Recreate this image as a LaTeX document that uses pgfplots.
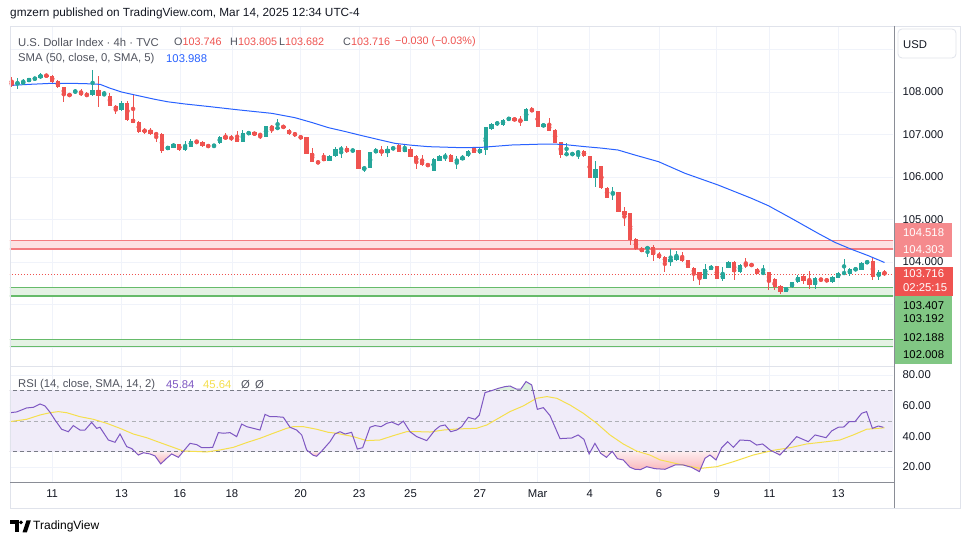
\documentclass[border=0pt]{standalone}
\usepackage{fontspec}
\setmainfont{Liberation Sans}
\usepackage{pgfplots}
\pgfplotsset{compat=1.18}
\usepackage{pgfplotstable}

\definecolor{upc}{HTML}{26A69A}
\definecolor{dnc}{HTML}{EF5350}
\definecolor{smac}{HTML}{2962FF}
\definecolor{gridc}{HTML}{F0F3FA}
\definecolor{txt}{HTML}{131722}
\definecolor{lgc}{HTML}{50535E}
\definecolor{rsic}{HTML}{7E57C2}
\definecolor{rsimac}{HTML}{F5DF4D}
\definecolor{bandc}{HTML}{F0ECF9}
\definecolor{zoneR}{HTML}{FDE2E3}
\definecolor{zoneRl}{HTML}{F47C80}
\definecolor{zoneG}{HTML}{E4F2E4}
\definecolor{zoneGl}{HTML}{66BB6A}
\definecolor{pinktop}{HTML}{FDEDEE}
\definecolor{pinkbot}{HTML}{F9B3B7}
\definecolor{greenf}{HTML}{DDF1DE}
\definecolor{bordc}{HTML}{E0E3EB}
\definecolor{axc}{HTML}{8A8D96}
\definecolor{dashc}{HTML}{787B86}
\definecolor{boxR}{HTML}{F58A8D}
\definecolor{boxG}{HTML}{81C784}

\pgfplotstableread{
i o h l c
2 108.204 108.322 108.078 108.220
3 108.188 108.314 108.173 108.251
4 108.243 108.330 108.235 108.322
5 108.306 108.330 108.300 108.322
6 108.322 108.439 108.314 108.408
12 108.008 108.063 107.953 108.024
15 107.922 108.518 107.914 108.047
17 107.937 108.031 107.906 107.953
20 107.576 107.796 107.561 107.749
28 106.635 106.740 106.630 106.729
29 106.690 106.808 106.675 106.784
31 106.627 106.839 106.620 106.737
32 106.714 106.886 106.698 106.855
36 106.722 106.776 106.706 106.737
37 106.792 106.960 106.780 106.949
41 106.831 107.106 106.824 107.043
42 106.996 107.090 106.980 107.067
45 106.949 107.210 106.940 107.200
47 107.145 107.357 107.129 107.161
56 106.384 106.510 106.380 106.502
57 106.494 106.714 106.478 106.659
58 106.627 106.729 106.439 106.690
60 106.604 106.650 106.600 106.643
62 106.173 106.259 106.125 106.243
63 106.220 106.590 106.210 106.588
64 106.573 106.675 106.557 106.635
66 106.573 106.737 106.471 106.667
67 106.651 106.714 106.635 106.698
69 106.596 106.784 106.580 106.675
74 106.149 106.440 106.140 106.431
75 106.384 106.525 106.376 106.502
76 106.478 106.557 106.376 106.494
78 106.376 106.494 106.180 106.400
79 106.400 106.518 106.392 106.478
80 106.494 106.627 106.478 106.612
82 106.565 106.682 106.549 106.651
83 106.643 107.184 106.518 107.169
84 107.129 107.263 107.106 107.247
85 107.224 107.325 107.200 107.302
86 107.224 107.373 107.200 107.349
87 107.333 107.420 107.318 107.404
90 107.325 107.631 107.310 107.608
93 107.184 107.263 107.169 107.247
97 106.525 106.808 106.518 106.549
98 106.533 106.560 106.520 106.549
99 106.549 106.627 106.416 106.620
102 105.984 106.376 105.773 106.188
105 105.608 105.757 105.459 105.639
111 104.314 104.361 104.118 104.345
115 104.008 104.314 103.898 104.071
116 104.055 104.259 104.024 104.149
121 103.608 103.961 103.600 103.835
122 103.820 103.929 103.804 103.906
124 103.600 103.882 103.561 103.710
125 103.867 104.024 103.851 104.008
127 103.757 103.961 103.741 103.937
131 103.710 103.929 103.694 103.773
135 103.302 103.420 103.286 103.404
136 103.404 103.537 103.380 103.522
137 103.522 103.694 103.506 103.639
140 103.459 103.647 103.365 103.631
143 103.522 103.671 103.506 103.655
144 103.631 103.757 103.616 103.733
145 103.733 104.071 103.725 103.749
146 103.725 103.867 103.663 103.843
147 103.820 103.851 103.812 103.835
148 103.820 104.008 103.812 103.984
149 103.961 104.047 103.945 104.031
151 103.663 103.812 103.584 103.757
}\upbars

\pgfplotstableread{
i o h l c
1 108.251 108.361 108.125 108.141
7 108.400 108.410 108.360 108.369
8 108.384 108.400 108.220 108.243
9 108.267 108.282 108.086 108.110
10 108.110 108.125 107.773 107.937
11 107.961 107.970 107.890 107.898
13 108.016 108.078 107.906 107.922
14 107.937 107.992 107.875 107.922
16 108.047 108.376 107.639 107.914
18 107.914 107.969 107.671 107.678
19 107.671 107.686 107.490 107.592
21 107.749 107.796 107.325 107.341
22 107.365 107.945 107.263 107.278
23 107.302 107.310 107.040 107.051
24 107.106 107.153 107.012 107.075
25 107.106 107.145 106.996 107.012
26 107.043 107.059 106.831 106.980
27 107.012 107.027 106.573 106.620
30 106.776 106.780 106.620 106.627
33 106.855 106.871 106.776 106.816
34 106.831 106.840 106.710 106.722
35 106.737 106.745 106.715 106.722
38 106.965 107.027 106.871 106.886
39 106.925 106.996 106.847 106.902
40 106.925 107.075 106.824 106.831
43 107.059 107.070 106.970 106.980
44 107.004 107.027 106.886 106.980
46 107.200 107.216 107.027 107.129
48 107.192 107.200 107.160 107.169
49 107.106 107.120 107.000 107.012
50 107.043 107.067 106.949 106.965
51 106.973 106.996 106.871 106.902
52 106.933 106.949 106.533 106.541
53 106.565 106.675 106.361 106.361
54 106.376 106.380 106.310 106.314
55 106.455 106.573 106.376 106.384
59 106.682 106.722 106.557 106.580
61 106.635 106.640 106.190 106.196
65 106.627 106.722 106.494 106.565
68 106.761 106.770 106.590 106.596
70 106.659 106.714 106.471 106.478
71 106.494 106.510 106.196 106.361
72 106.384 106.518 106.259 106.275
73 106.306 106.310 106.250 106.259
77 106.518 106.533 106.361 106.361
81 106.682 106.714 106.557 106.565
88 107.396 107.400 107.310 107.318
89 107.341 107.427 107.208 107.325
91 107.600 107.639 107.522 107.537
92 107.553 107.560 107.170 107.176
94 107.247 107.380 107.082 107.090
95 107.114 107.120 106.800 106.808
96 106.824 106.831 106.455 106.518
100 106.620 106.635 106.471 106.486
101 106.494 106.500 105.970 105.984
103 106.251 106.267 105.718 105.733
104 105.749 105.760 105.500 105.514
106 105.647 105.650 105.180 105.184
107 105.200 105.294 104.847 105.106
108 105.153 105.161 104.400 104.518
109 104.541 104.557 104.282 104.298
110 104.322 104.345 104.227 104.243
112 104.353 104.400 104.024 104.165
113 104.188 104.243 104.071 104.102
114 104.118 104.141 103.773 104.008
117 104.118 104.227 104.008 104.024
118 104.039 104.055 103.851 103.867
119 103.867 103.890 103.561 103.718
120 103.757 103.773 103.467 103.616
123 103.906 103.914 103.592 103.600
126 104.000 104.024 103.584 103.757
128 103.945 104.086 103.851 103.922
129 103.937 103.953 103.906 103.922
130 103.835 103.851 103.710 103.725
132 103.757 103.773 103.341 103.537
133 103.592 103.616 103.341 103.420
134 103.435 103.459 103.247 103.286
138 103.663 103.725 103.482 103.553
139 103.584 103.788 103.365 103.467
141 103.616 103.631 103.537 103.561
142 103.608 103.620 103.520 103.529
150 104.024 104.086 103.584 103.647
152 103.746 103.805 103.682 103.716
}\dnbars

\pgfplotstableread{
i v
0.7 108.16
1 108.157
4 108.18
7.9 108.204
11.4 108.204
14 108.195
16.3 108.18
18 108.09
20 108.0
23 107.91
25.8 107.827
28 107.77
31 107.718
35 107.66
40.2 107.58
46 107.498
50 107.396
53 107.28
55.8 107.161
58.7 107.07
61.6 106.973
64.5 106.88
67.3 106.792
70 106.75
73.1 106.714
78.9 106.69
82.3 106.698
87.5 106.753
93.3 106.776
96.2 106.769
100.2 106.714
103 106.68
105.9 106.635
108.8 106.518
112.9 106.361
117.5 106.086
123.2 105.812
129 105.498
131.9 105.325
135.9 105.027
140.5 104.675
143.4 104.463
146.3 104.298
149.2 104.149
151.8 104.0
152 103.988
}\smadata

\pgfplotstableread{
i v
0.71 55.4
1.86 55.9
2.72 57.2
3.59 58.5
4.74 58.9
5.90 61.1
6.76 59.8
7.63 55.7
8.49 50.7
9.64 44.6
10.8 43.0
11.66 47.0
12.82 44.1
13.68 44.1
14.83 49.1
15.70 45.2
16.27 45.9
17.72 37.6
18.87 36.1
19.74 41.5
20.89 33.3
21.76 32.0
22.91 27.8
23.78 29.3
24.93 28.5
25.80 27.2
26.78 22.0
27.82 25.7
28.68 28.5
29.83 26.3
30.98 31.5
31.85 35.4
33.0 34.6
33.87 32.6
34.73 32.6
35.77 32.8
36.75 42.4
37.62 42.0
38.77 42.4
39.92 39.8
40.79 48.0
41.65 46.3
42.81 45.2
43.96 44.1
44.83 54.3
45.69 52.8
46.84 52.8
48.0 52.4
49.15 45.9
50.3 44.1
51.17 40.9
52.03 31.1
53.18 27.6
53.76 27.0
54.5 29.8
55.2 32.8
56.07 36.5
56.9 41.5
57.8 43.0
58.67 41.5
59.8 42.6
60.8 31.7
61.72 32.6
62.99 45.9
63.86 47.0
64.9 46.3
65.9 48.5
66.74 49.3
67.9 47.4
68.76 49.9
69.91 43.0
71.07 39.8
72.8 37.2
74.24 44.1
75.1 46.7
75.97 47.4
76.95 43.0
78.0 44.1
78.85 46.3
80.0 52.4
81.16 51.1
81.9 53.9
82.89 68.5
84.04 69.8
85.2 71.3
86.35 72.4
87.2 72.8
88.37 70.7
89.06 70.7
89.98 75.7
90.96 73.5
91.94 57.6
92.98 58.7
94.13 53.5
95.86 38.5
97.88 38.9
99.0 40.9
100.0 38.0
100.9 28.5
101.9 35.4
102.9 28.9
103.9 26.3
104.9 30.2
105.8 25.4
106.8 24.6
107.97 19.8
108.84 18.5
109.8 18.3
110.85 20.2
112.3 18.9
114.03 18.5
115.75 21.3
117.2 21.3
118.6 19.8
119.97 17.0
120.95 25.7
121.8 27.8
122.85 24.6
123.83 32.6
124.87 36.5
125.85 32.8
127.0 37.6
128.73 37.2
129.88 34.3
130.92 35.0
132.2 31.1
133.9 27.8
135.36 33.7
136.8 39.8
138.82 36.5
139.98 40.9
141.88 39.1
142.86 43.5
144.0 45.9
144.99 46.1
145.9 49.6
146.9 49.6
148.05 55.0
148.9 56.1
149.9 45.2
150.93 46.7
151.8 45.9
}\rsidata

\pgfplotstableread{
i v
0.71 49.6
3.59 51.1
5.9 53.9
7.63 55.4
9.07 56.1
10.51 55.4
12.82 52.8
15.12 51.1
17.43 48.5
19.74 45.2
22.04 41.5
24.35 39.1
26.66 35.9
28.96 32.8
30.69 30.4
32.42 30.2
34.73 29.8
37.04 31.1
39.34 32.8
41.65 35.9
43.96 38.7
46.26 42.0
48.57 45.2
49.72 46.3
51.46 46.3
53.76 44.6
55.78 42.6
57.2 42.0
60.1 39.8
62.4 37.2
64.7 37.6
67.0 40.4
69.3 43.0
71.6 43.0
73.4 42.8
75.7 44.1
78.0 44.8
81.4 45.2
83.2 47.4
84.9 51.1
87.2 56.1
89.5 59.8
91.8 64.8
93.6 65.9
95.3 64.8
97.6 60.4
99.9 55.0
102.2 48.5
104.5 40.9
106.8 35.0
109.1 30.4
111.4 27.8
113.2 24.6
116.6 21.7
120.1 19.1
123.0 20.2
125.9 23.5
129.3 27.8
132.8 30.9
135.7 32.6
138.5 35.0
142.0 36.5
144.3 37.6
146.6 40.9
148.9 44.6
151.2 45.3
152.0 45.6
}\rsimadata

\pgfplotsset{
  candle/.style 2 args={color=#1, only marks, mark=none, forget plot,
    error bars/.cd, y dir=both, y explicit, error mark=none,
    error bar style={color=#1, solid, line width=#2}},
  tvaxis/.style={scale only axis, anchor=south west, width=883pt,
    xmin=0.706, xmax=153.47,
    axis line style={draw=none}, major tick length=0pt,
    xtick={8,20,30.1,39.1,51,61.1,70,82,92,101,113,123,132.1,144},
    xmajorgrids, ymajorgrids, grid style={gridc, line width=0.8pt},
    yticklabel pos=right,
    yticklabel style={anchor=west, xshift=6pt, text=txt, font=\fontsize{11.3}{13}\selectfont},
    xticklabel style={text=txt, font=\fontsize{11.3}{13}\selectfont},
    clip=true},
  oversold/.style={draw=none, forget plot, top color=pinktop, bottom color=pinkbot}
}

\newcommand{\lgf}{\fontsize{11.3}{13}\selectfont}
\newcommand{\lgn}{\fontsize{10.8}{13}\selectfont}

\begin{document}
\begin{tikzpicture}[x=1pt,y=1pt]
\useasboundingbox (0,0) rectangle (970,545);
\fill[white] (0,0) rectangle (970,545);

% ---------- main price pane ----------
\begin{axis}[tvaxis, at={(10pt,179pt)}, height=339pt,
  ymin=101.553, ymax=109.53,
  ytick={102,103,104,105,106,107,108,109},
  yticklabels={,,104.000,105.000,106.000,107.000,108.000,},
  xticklabels={,,,,,,,,,,,,,}]
  \addplot[draw=none, fill=zoneR, forget plot] coordinates {(0,104.303) (160,104.303) (160,104.518) (0,104.518)} -- cycle;
  \addplot[zoneRl, line width=0.9pt, forget plot] coordinates {(0,104.518) (160,104.518)};
  \addplot[zoneRl, line width=1.8pt, forget plot] coordinates {(0,104.303) (160,104.303)};
  \addplot[draw=none, fill=zoneG, forget plot] coordinates {(0,103.192) (160,103.192) (160,103.407) (0,103.407)} -- cycle;
  \addplot[zoneGl, line width=0.9pt, forget plot] coordinates {(0,103.407) (160,103.407)};
  \addplot[zoneGl, line width=0.9pt, forget plot] coordinates {(0,103.224) (160,103.224)};
  \addplot[zoneGl, line width=0.9pt, forget plot] coordinates {(0,103.192) (160,103.192)};
  \addplot[draw=none, fill=zoneG, forget plot] coordinates {(0,102.008) (160,102.008) (160,102.188) (0,102.188)} -- cycle;
  \addplot[zoneGl, line width=0.9pt, forget plot] coordinates {(0,102.188) (160,102.188)};
  \addplot[zoneGl, line width=0.9pt, forget plot] coordinates {(0,102.008) (160,102.008)};
  \addplot[dnc, line width=0.9pt, dash pattern=on 1pt off 2pt, forget plot] coordinates {(0,103.716) (160,103.716)};
  \addplot[candle={upc}{1pt}] table[x=i, y expr={(\thisrow{h}+\thisrow{l})/2}, y error expr={(\thisrow{h}-\thisrow{l})/2}] {\upbars};
  \addplot[candle={dnc}{1pt}] table[x=i, y expr={(\thisrow{h}+\thisrow{l})/2}, y error expr={(\thisrow{h}-\thisrow{l})/2}] {\dnbars};
  \addplot[candle={upc}{4.3pt}] table[x=i, y expr={(\thisrow{o}+\thisrow{c})/2}, y error expr={max(abs(\thisrow{c}-\thisrow{o})/2,0.012)}] {\upbars};
  \addplot[candle={dnc}{4.3pt}] table[x=i, y expr={(\thisrow{o}+\thisrow{c})/2}, y error expr={max(abs(\thisrow{c}-\thisrow{o})/2,0.012)}] {\dnbars};
  \addplot[smac, line width=1pt, mark=none] table[x=i, y=v] {\smadata};
\end{axis}

% ---------- RSI pane ----------
\begin{axis}[tvaxis, at={(10pt,62.3pt)}, height=115.7pt,
  ymin=9.76, ymax=85.2,
  ytick={20,40,60,80},
  yticklabels={20.00,40.00,60.00,80.00},
  xticklabels={11,13,16,18,20,23,25,27,Mar,4,6,9,11,13},
  xticklabel style={anchor=center, yshift=-11.3pt}]
  \addplot[draw=none, fill=bandc, forget plot] coordinates {(0,30) (160,30) (160,70) (0,70)} -- cycle;
  \addplot[oversold] coordinates {(22.31,30) (22.91,27.8) (23.78,29.3) (24.93,28.5) (25.80,27.2) (26.78,22.0) (27.82,25.7) (28.68,28.5) (29.83,26.3) (30.65,30)} -- cycle;
  \addplot[oversold] coordinates {(52.39,30) (53.18,27.6) (53.76,27.0) (54.5,29.8) (54.55,30)} -- cycle;
  \addplot[oversold] coordinates {(100.76,30) (100.9,28.5) (101.12,30)} -- cycle;
  \addplot[oversold] coordinates {(102.73,30) (102.9,28.9) (103.9,26.3) (104.85,30) (104.94,30) (105.8,25.4) (106.8,24.6) (107.97,19.8) (108.84,18.5) (109.8,18.3) (110.85,20.2) (112.3,18.9) (114.03,18.5) (115.75,21.3) (117.2,21.3) (118.6,19.8) (119.97,17.0) (120.95,25.7) (121.8,27.8) (122.85,24.6) (123.51,30)} -- cycle;
  \addplot[oversold] coordinates {(132.77,30) (133.9,27.8) (134.44,30)} -- cycle;
  \addplot[draw=none, fill=greenf, forget plot] coordinates {(84.19,70) (85.2,71.3) (86.35,72.4) (87.2,72.8) (88.37,70.7) (89.06,70.7) (89.98,75.7) (90.96,73.5) (91.18,70)} -- cycle;
  \addplot[dashc, line width=0.8pt, dash pattern=on 4pt off 3pt, forget plot] coordinates {(0,70) (160,70)};
  \addplot[dashc, line width=0.8pt, dash pattern=on 4pt off 3pt, forget plot] coordinates {(0,30) (160,30)};
  \addplot[dashc!60, line width=0.8pt, dash pattern=on 4pt off 3pt, forget plot] coordinates {(0,50) (160,50)};
  \addplot[rsimac, line width=1pt, mark=none] table[x=i, y=v] {\rsimadata};
  \addplot[rsic, line width=1pt, mark=none] table[x=i, y=v] {\rsidata};
\end{axis}

% ---------- frame ----------
\draw[bordc, line width=0.8pt] (10,37) rectangle (960,519);
\draw[bordc, line width=0.8pt] (10,178.5) -- (893.5,178.5);
\draw[axc, line width=0.8pt] (10,62.3) -- (894.5,62.3);
\draw[axc, line width=0.8pt] (894.5,519) -- (894.5,37);

% ---------- price scale boxes ----------
\fill[boxR] (895,288) rectangle (952,322);
\node[anchor=west, inner sep=0, text=white, font=\lgf] at (903,312.3) {104.518};
\node[anchor=west, inner sep=0, text=white, font=\lgf] at (903,295) {104.303};
\fill[dnc] (895,249) rectangle (953,278.3);
\node[anchor=west, inner sep=0, text=white, font=\lgf] at (903,271) {103.716};
\node[anchor=west, inner sep=0, text=white, font=\lgf] at (903,257) {02:25:15};
\fill[boxG] (895,181) rectangle (952,249);
\node[anchor=west, inner sep=0, text=black, font=\lgf] at (903,239) {103.407};
\node[anchor=west, inner sep=0, text=black, font=\lgf] at (903,226) {103.192};
\node[anchor=west, inner sep=0, text=black, font=\lgf] at (903,207) {102.188};
\node[anchor=west, inner sep=0, text=black, font=\lgf] at (903,190) {102.008};

\draw[bordc, line width=0.8pt, rounded corners=4pt] (898,487) rectangle (956,516);
\node[anchor=west, inner sep=0, text=txt, font=\lgf] at (903,500) {USD};

% ---------- texts ----------
\node[anchor=west, inner sep=0, text=txt, font=\fontsize{11.8}{14}\selectfont] at (10,532) {gmzern published on TradingView.com, Mar 14, 2025 12:34 UTC-4};

\node[anchor=west, inner sep=0, text=lgc, font=\lgf] at (18,503) {U.S. Dollar Index · 4h · TVC};
\node[anchor=west, inner sep=0, text=lgc, font=\lgn] at (174,503) {O\textcolor{dnc}{103.746}};
\node[anchor=west, inner sep=0, text=lgc, font=\lgn] at (230,503) {H\textcolor{dnc}{103.805}};
\node[anchor=west, inner sep=0, text=lgc, font=\lgn] at (279,503) {L\textcolor{dnc}{103.682}};
\node[anchor=west, inner sep=0, text=lgc, font=\lgn] at (343,503) {C\textcolor{dnc}{103.716}};
\node[anchor=west, inner sep=0, text=dnc, font=\lgn] at (395,503) {−0.030 (−0.03\%)};

\node[anchor=west, inner sep=0, text=lgc, font=\lgf] at (18,486) {SMA (50, close, 0, SMA, 5)};
\node[anchor=west, inner sep=0, text=smac, font=\lgf] at (166,486) {103.988};

\node[anchor=west, inner sep=0, text=lgc, font=\lgf] at (18,160) {RSI (14, close, SMA, 14, 2)};
\node[anchor=west, inner sep=0, text=rsic, font=\lgf] at (166,160) {45.84};
\node[anchor=west, inner sep=0, text=rsimac, font=\lgf] at (203,160) {45.64};
\node[anchor=west, inner sep=0, text=lgc, font=\lgf] at (241,160) {Ø};
\node[anchor=west, inner sep=0, text=lgc, font=\lgf] at (255,160) {Ø};

% ---------- TradingView logo ----------
\fill[black] (10,24.5) rectangle (18.5,20.8);
\fill[black] (14.6,24.5) rectangle (18.5,12.5);
\fill[black] (21,22.6) circle (1.9);
\fill[black] (22.5,12.5) -- (26.5,24.5) -- (30.8,24.5) -- (26.8,12.5) -- cycle;
\node[anchor=west, inner sep=0, text=black, font=\fontsize{12}{14}\selectfont] at (33,18.5) {TradingView};
\end{tikzpicture}
\end{document}
